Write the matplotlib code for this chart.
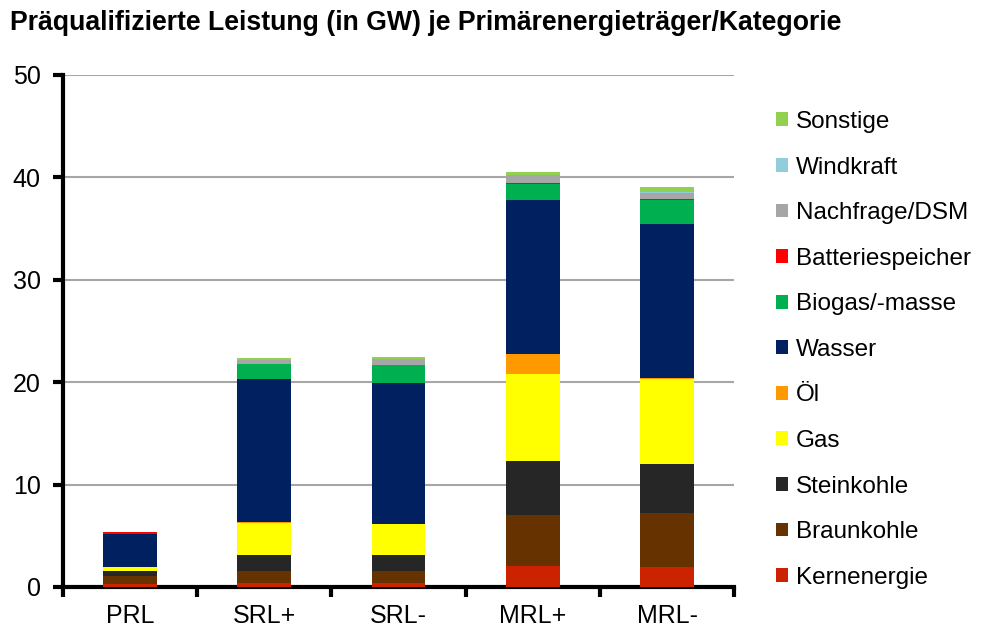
import numpy as np
import matplotlib
matplotlib.use("Agg")
from matplotlib import pyplot as plt
from matplotlib.patches import Patch

plt.rcParams['font.family'] = ['Liberation Sans', 'DejaVu Sans']

categories = ['PRL', 'SRL+', 'SRL-', 'MRL+', 'MRL-']

# stacked from bottom to top, GW per category
kernenergie = [0.30, 0.35, 0.35, 2.05, 1.95]
braunkohle = [0.80, 1.25, 1.25, 5.00, 5.25]
steinkohle = [0.50, 1.50, 1.50, 5.25, 4.80]
gas = [0.35, 3.10, 3.05, 8.50, 8.30]
oel = [0.00, 0.15, 0.00, 2.00, 0.10]
wasser = [3.20, 13.95, 13.75, 15.00, 15.00]
biogas = [0.05, 1.50, 1.75, 1.60, 2.40]
batterie = [0.15, 0.00, 0.00, 0.05, 0.05]
nachfrage = [0.05, 0.40, 0.60, 0.75, 0.65]
windkraft = [0.00, 0.00, 0.00, 0.05, 0.05]
sonstige = [0.00, 0.20, 0.20, 0.25, 0.55]

series = [
    ('Kernenergie', kernenergie, '#CC2200'),
    ('Braunkohle', braunkohle, '#663300'),
    ('Steinkohle', steinkohle, '#262626'),
    ('Gas', gas, '#FFFF00'),
    ('Öl', oel, '#FF9900'),
    ('Wasser', wasser, '#002060'),
    ('Biogas/-masse', biogas, '#00B050'),
    ('Batteriespeicher', batterie, '#FF0000'),
    ('Nachfrage/DSM', nachfrage, '#A6A6A6'),
    ('Windkraft', windkraft, '#92CDDC'),
    ('Sonstige', sonstige, '#92D050'),
]

fig = plt.figure(figsize=(9.93, 6.29), dpi=100)
ax = fig.add_axes([0.0634, 0.0668, 0.676, 0.8140])

x = np.arange(len(categories))
bottom = np.zeros(len(categories))
for name, vals, col in series:
    vals = np.array(vals)
    ax.bar(x, vals, width=0.4, bottom=bottom, color=col, label=name, zorder=3)
    bottom += vals

ax.set_xlim(-0.5, len(categories) - 0.5)
ax.set_ylim(0, 50)
ax.set_yticks(np.arange(0, 51, 10))
ax.yaxis.grid(True, color='#A6A6A6', linewidth=1.5, zorder=0)
ax.set_axisbelow(True)

ax.set_xticks(x)
ax.set_xticklabels(categories)
ax.set_xticks(np.arange(-0.5, len(categories), 1.0), minor=True)
ax.tick_params(axis='x', which='major', length=0, labelsize=18, pad=12)
ax.tick_params(axis='x', which='minor', length=7, width=3, direction='out')
ax.tick_params(axis='y', length=7, width=3, direction='out', labelsize=18, pad=9)

for side in ['top', 'right']:
    ax.spines[side].set_visible(False)
for side in ['left', 'bottom']:
    ax.spines[side].set_linewidth(3)

handles = [Patch(facecolor=col, label=name) for name, vals, col in series][::-1]
leg = fig.legend(handles=handles, loc='upper left', bbox_to_anchor=(0.772, 0.839),
                 frameon=False, fontsize=17.5, handlelength=0.5, handleheight=0.5,
                 handletextpad=0.3, labelspacing=0.97, borderaxespad=0)

fig.text(0.01, 0.963, 'Präqualifizierte Leistung (in GW) je Primärenergieträger/Kategorie',
         fontsize=19.2, fontweight='bold', va='center', ha='left')

fig.savefig('out.png', dpi=100)
